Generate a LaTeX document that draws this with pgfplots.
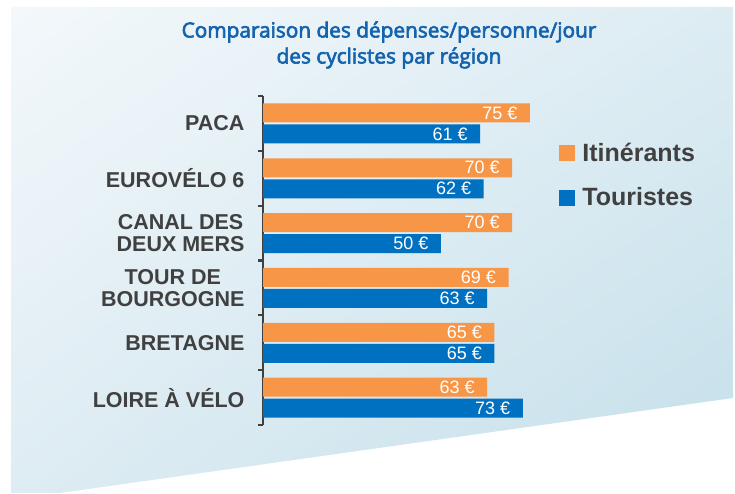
\documentclass[border=0pt]{standalone}
\usepackage{pgfplots}
\pgfplotsset{compat=1.18}
\usetikzlibrary{shadings}
\usepackage{fontspec}
\setmainfont{Liberation Sans}
\newfontfamily\titlefont[FakeBold=3]{Open Sans}
\definecolor{orangebar}{RGB}{247,150,70}
\definecolor{bluebar}{RGB}{0,112,192}
\definecolor{labelgray}{RGB}{64,64,64}
\definecolor{titleblue}{RGB}{19,99,175}
\definecolor{bgUL}{RGB}{243,248,251}
\definecolor{bgUR}{RGB}{221,236,243}
\definecolor{bgLL}{RGB}{222,236,243}
\definecolor{bgLR}{RGB}{196,223,234}
\begin{document}
\begin{tikzpicture}
% background panel
\shade[upper left=bgUL, upper right=bgUR, lower left=bgLL, lower right=bgLR]
  (11pt,486pt) -- (733pt,486pt) -- (733pt,95pt) -- (60pt,0pt) -- (11pt,0pt) -- cycle;
\node[align=center, text=titleblue, font=\titlefont\fontsize{20.8}{26}\selectfont, anchor=north]
  at (389pt,475pt) {Comparaison des dépenses/personne/jour\\des cyclistes par région};
\begin{axis}[
  at={(263pt,68pt)}, anchor=south west,
  scale only axis,
  width=284.7pt, height=329pt,
  xbar, bar width=19pt,
  xmin=0, xmax=80,
  ymin=-0.5, ymax=5.5,
  axis x line=none,
  axis y line*=left,
  axis line style={labelgray, line width=2.2pt},
  ytick={0,1,2,3,4,5},
  yticklabels={LOIRE À VÉLO, BRETAGNE, {TOUR DE\\BOURGOGNE}, {CANAL DES\\DEUX MERS}, EUROVÉLO 6, PACA},
  yticklabel style={align=center, font=\bfseries\fontsize{21.5}{21.5}\selectfont, text=labelgray, xshift=-15pt},
  major tick length=0pt,
  minor ytick={-0.5,0.5,1.5,2.5,3.5,4.5,5.5},
  minor tick length=5pt,
  tick align=outside,
  minor tick style={labelgray, line width=2.2pt},
  /pgf/number format/assume math mode=true,
  nodes near coords={\pgfmathprintnumber{\pgfplotspointmeta}~€},
  every node near coord/.append style={anchor=east, text=white, font=\fontsize{18}{18}\selectfont, xshift=-9pt},
  legend style={at={(1.03,0.87)}, anchor=north west, draw=none, fill=none,
    font=\bfseries\fontsize{25}{25}\selectfont, text=labelgray,
    row sep=21pt, legend cell align=left,
    /tikz/every odd column/.append style={column sep=5pt}},
  legend image code/.code={\fill[#1] (0pt,-8pt) rectangle (16pt,8pt);},
  clip=false,
]
\addplot[fill=orangebar, draw=none, bar shift=10.5pt] coordinates {(75,5) (70,4) (70,3) (69,2) (65,1) (63,0)};
\addplot[fill=bluebar, draw=none, bar shift=-10.5pt] coordinates {(61,5) (62,4) (50,3) (63,2) (65,1) (73,0)};
\legend{Itinérants, Touristes}
\end{axis}
\pgfresetboundingbox
\path (0pt,0pt) rectangle (735pt,493pt);
\end{tikzpicture}
\end{document}
